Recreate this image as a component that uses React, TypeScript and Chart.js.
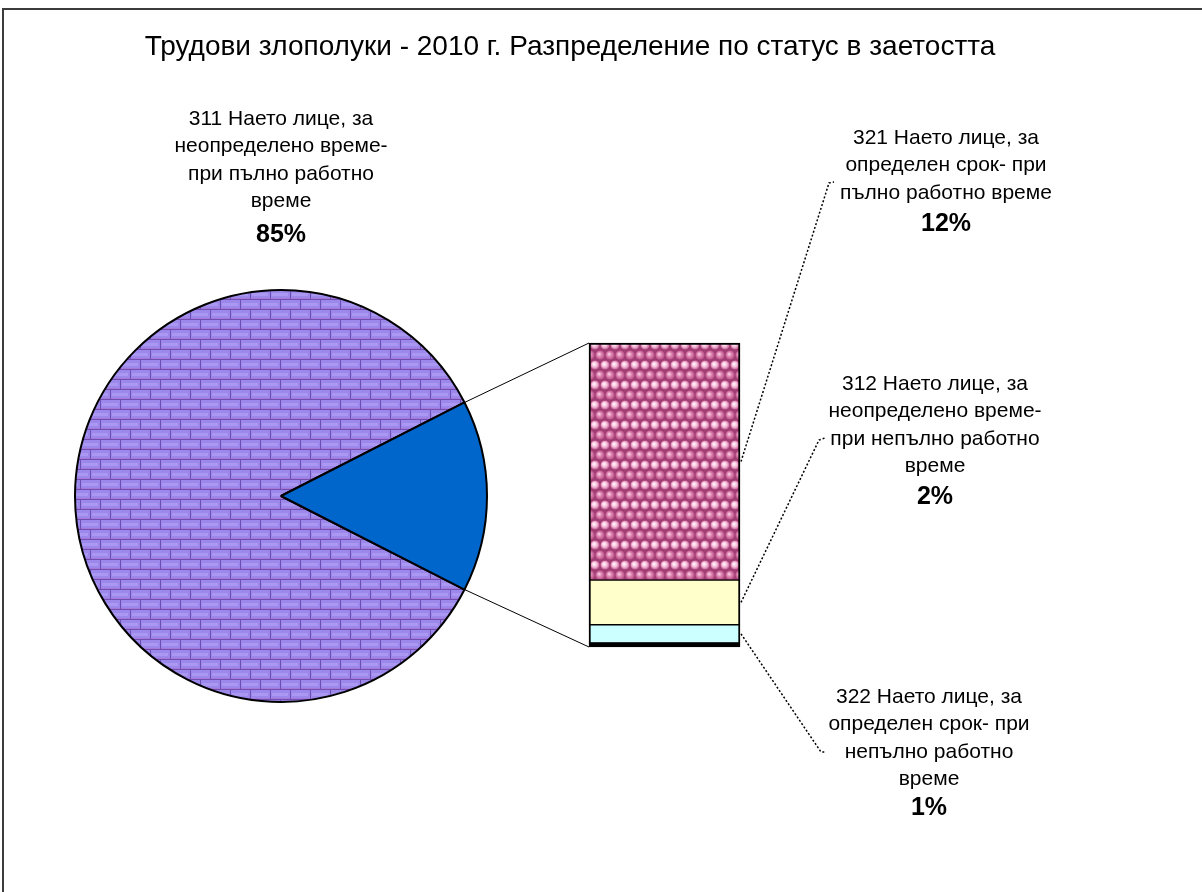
import React, { useEffect, useRef } from "react";
import { Chart, registerables } from "chart.js";
Chart.register(...registerables);

// ---------- data ----------
const chartTitle = "Трудови злополуки - 2010 г. Разпределение по статус в заетостта";
const pieLabels = ["311 Наето лице, за неопределено време- при пълно работно време", "Други"];
const pieValues = [85, 15];
// bar (second plot) from bottom to top
const barLabels = ["Друго", "322", "312", "321"];
const barValues = [0.2, 0.9, 2.2, 11.7];
const barColors = ["#000000", "#ccffff", "#ffffcc", "pattern"];

const label311 = ["311 Наето лице, за", "неопределено време-", "при пълно работно", "време"];
const label321 = ["321 Наето лице, за", "определен срок- при", "пълно работно време"];
const label312 = ["312 Наето лице, за", "неопределено време-", "при непълно работно", "време"];
const label322 = ["322 Наето лице, за", "определен срок- при", "непълно работно", "време"];
const pct311 = "85%";
const pct321 = "12%";
const pct312 = "2%";
const pct322 = "1%";

// ---------- layout ----------
const W = 1202;
const H = 892;
const FONT = '"Liberation Sans", Arial, Helvetica, sans-serif';
const LINE = 27.5;

type Block = { lines: string[]; pct: string; cx: number; y0: number; pctY: number };
const blocks: Block[] = [
  { lines: label311, pct: pct311, cx: 281, y0: 119, pctY: 235 },
  { lines: label321, pct: pct321, cx: 946, y0: 138, pctY: 224 },
  { lines: label312, pct: pct312, cx: 935, y0: 384, pctY: 497 },
  { lines: label322, pct: pct322, cx: 929, y0: 697, pctY: 808 },
];
// leader line end points for bar segments (index into barValues)
const leaders: { seg: number; pts: [number, number][] }[] = [
  { seg: 3, pts: [[829, 183], [834, 182]] },
  { seg: 2, pts: [[819, 440], [825, 438]] },
  { seg: 1, pts: [[821, 752], [826, 752]] },
];

function makeBrick(ctx: CanvasRenderingContext2D) {
  const c = document.createElement("canvas");
  c.width = 20;
  c.height = 20;
  const g = c.getContext("2d")!;
  g.fillStyle = "#9c88ea";
  g.fillRect(0, 0, 20, 20);
  g.fillStyle = "#ab98f2";
  g.fillRect(2, 3, 16, 3);
  g.fillRect(0, 13, 8, 3);
  g.fillRect(12, 13, 8, 3);
  g.fillStyle = "#a878d6";
  g.fillRect(0, 8, 20, 1);
  g.fillRect(0, 18, 20, 1);
  g.fillStyle = "#6e50b4";
  g.fillRect(0, 9, 20, 1);
  g.fillRect(0, 19, 20, 1);
  g.fillRect(0, 0, 1, 9);
  g.fillRect(10, 10, 1, 9);
  return ctx.createPattern(c, "repeat")!;
}

function makeBubble(ctx: CanvasRenderingContext2D) {
  const c = document.createElement("canvas");
  c.width = 10;
  c.height = 20;
  const g = c.getContext("2d")!;
  g.fillStyle = "#a03e74";
  g.fillRect(0, 0, 10, 20);
  const bubble = (x: number, y: number, light: boolean) => {
    const gr = g.createRadialGradient(x - 1, y - 1, 0.5, x, y, 5);
    gr.addColorStop(0, light ? "#fff4fa" : "#f6c6de");
    gr.addColorStop(0.5, light ? "#f4b4d4" : "#d879a8");
    gr.addColorStop(1, "#b44c84");
    g.fillStyle = gr;
    g.beginPath();
    g.arc(x, y, 4.6, 0, Math.PI * 2);
    g.fill();
  };
  bubble(5, 5, true);
  bubble(0, 15, false);
  bubble(10, 15, false);
  return ctx.createPattern(c, "repeat")!;
}

const textPlugin = {
  id: "texts",
  afterDraw(chart: any) {
    const ctx = chart.ctx as CanvasRenderingContext2D;
    ctx.save();
    ctx.fillStyle = "#000";
    ctx.textAlign = "center";
    ctx.textBaseline = "middle";
    ctx.font = `28px ${FONT}`;
    ctx.fillText(chartTitle, 570, 47);
    for (const b of blocks) {
      ctx.font = `21px ${FONT}`;
      b.lines.forEach((t, i) => ctx.fillText(t, b.cx, b.y0 + i * LINE));
      ctx.font = `bold 25px ${FONT}`;
      ctx.fillText(b.pct, b.cx, b.pctY);
    }
    ctx.restore();
  },
};

export default function App() {
  const pieRef = useRef<HTMLCanvasElement>(null);
  const barRef = useRef<HTMLCanvasElement>(null);

  useEffect(() => {
    const pctx = pieRef.current!.getContext("2d")!;
    const bctx = barRef.current!.getContext("2d")!;
    const brick = makeBrick(pctx);
    const bubble = makeBubble(bctx);
    const pieTotal = pieValues.reduce((a, b) => a + b, 0);
    const barTotal = barValues.reduce((a, b) => a + b, 0);

    const pie = new Chart(pieRef.current!, {
      type: "pie",
      data: {
        labels: pieLabels,
        datasets: [
          {
            data: pieValues,
            backgroundColor: [brick, "#0066cc"],
            borderColor: "#000",
            borderWidth: 2,
            radius: 206,
          } as any,
        ],
      },
      options: {
        responsive: false,
        animation: false,
        events: [],
        rotation: 90 + ((pieValues[1] / pieTotal) * 360) / 2,
        layout: { padding: { left: 75, right: 715, top: 290, bottom: 190 } },
        plugins: { legend: { display: false }, tooltip: { enabled: false }, title: { display: false } },
      },
      plugins: [textPlugin],
    });

    const connectorPlugin = {
      id: "connectors",
      afterDatasetsDraw(chart: any) {
        const ctx = chart.ctx as CanvasRenderingContext2D;
        const arc: any = pie.getDatasetMeta(0).data[1];
        const top: any = chart.getDatasetMeta(barValues.length - 1).data[0];
        const bottom: any = chart.getDatasetMeta(0).data[0];
        const left = top.x - top.width / 2;
        const right = top.x + top.width / 2;
        ctx.save();
        ctx.strokeStyle = "#000";
        ctx.lineWidth = 1;
        ctx.beginPath();
        ctx.moveTo(arc.x + arc.outerRadius * Math.cos(arc.startAngle), arc.y + arc.outerRadius * Math.sin(arc.startAngle));
        ctx.lineTo(left, top.y);
        ctx.moveTo(arc.x + arc.outerRadius * Math.cos(arc.endAngle), arc.y + arc.outerRadius * Math.sin(arc.endAngle));
        ctx.lineTo(left, bottom.base);
        ctx.stroke();
        ctx.setLineDash([2, 2]);
        ctx.lineWidth = 1.5;
        for (const l of leaders) {
          const el: any = chart.getDatasetMeta(l.seg).data[0];
          const mid = (el.y + el.base) / 2;
          ctx.beginPath();
          ctx.moveTo(right + 1, mid);
          l.pts.forEach(([x, y]) => ctx.lineTo(x, y));
          ctx.stroke();
        }
        ctx.restore();
      },
    };

    const n = barValues.length;
    const bar = new Chart(barRef.current!, {
      type: "bar",
      data: {
        labels: ["Други"],
        datasets: barValues.map((v, i) => ({
          label: barLabels[i],
          data: [v],
          backgroundColor: barColors[i] === "pattern" ? bubble : barColors[i],
          borderColor: "#000",
          borderWidth: { left: 2, right: 2, top: i === n - 1 ? 2 : 1, bottom: i === 0 ? 2 : 1 },
          borderSkipped: false,
          barPercentage: 1,
          categoryPercentage: 1,
          clip: false,
        })) as any,
      },
      options: {
        responsive: false,
        animation: false,
        events: [],
        layout: { padding: { left: 589, right: W - 740, top: 343, bottom: H - 647 } },
        scales: {
          x: { display: false, stacked: true },
          y: { display: false, stacked: true, min: 0, max: barTotal },
        },
        plugins: { legend: { display: false }, tooltip: { enabled: false }, title: { display: false } },
      },
      plugins: [connectorPlugin],
    });

    return () => {
      bar.destroy();
      pie.destroy();
    };
  }, []);

  const canvasStyle: React.CSSProperties = { position: "fixed", left: 0, top: 0, width: W, height: H, display: "block" };
  return (
    <div>
      <div
        style={{
          position: "fixed",
          left: 2,
          top: 8,
          width: 1300,
          height: 1000,
          border: "2px solid #3c3c3c",
          background: "#fff",
        }}
      />
      <canvas ref={pieRef} width={W} height={H} style={canvasStyle} />
      <canvas ref={barRef} width={W} height={H} style={canvasStyle} />
    </div>
  );
}
